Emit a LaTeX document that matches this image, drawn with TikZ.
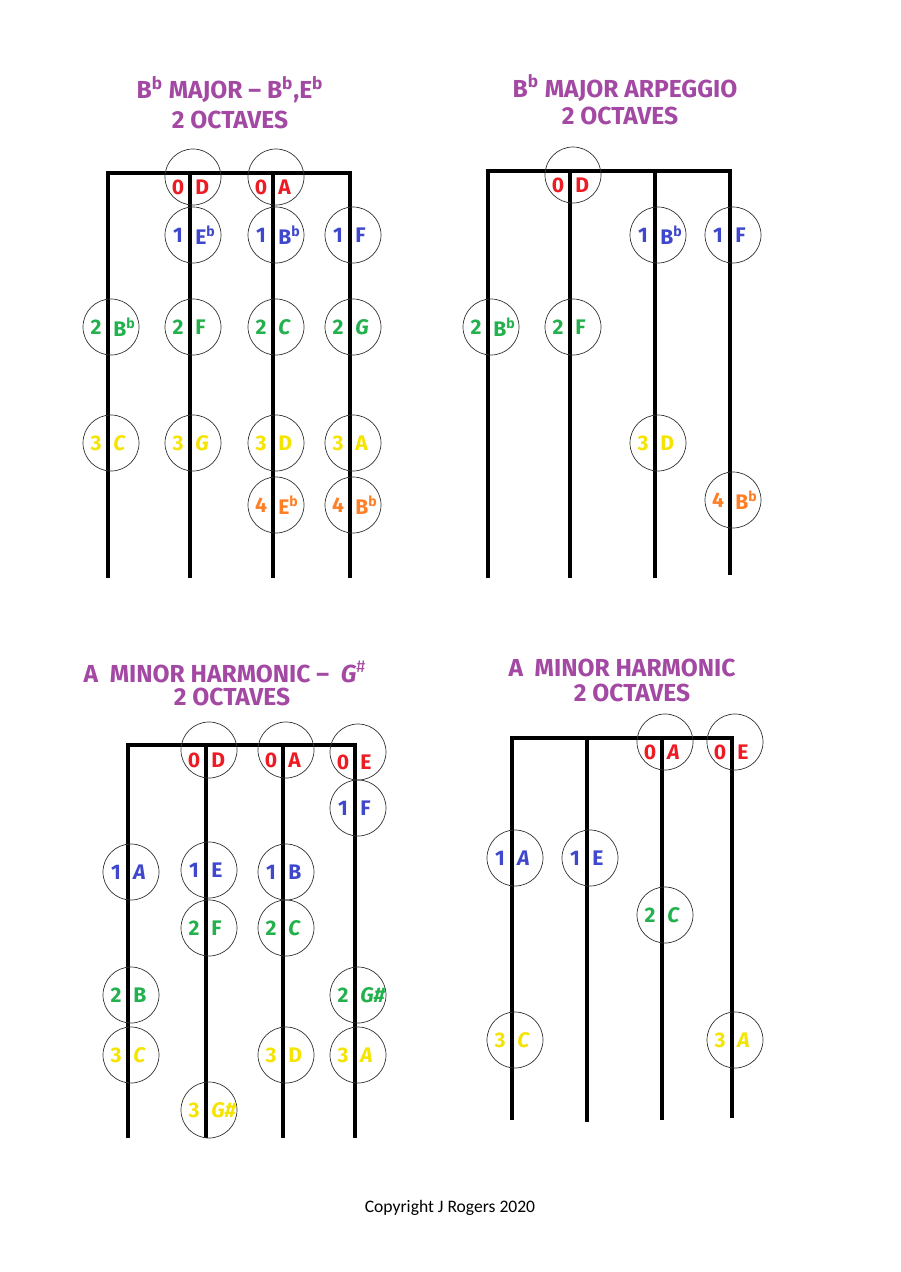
\documentclass[tikz,border=0pt]{standalone}
\usepackage{fontspec}
\setmainfont{Fira Sans}
\newfontfamily\cpy{Carlito}
\definecolor{nred}{HTML}{ED1C24}
\definecolor{nblue}{HTML}{3F48CC}
\definecolor{ngreen}{HTML}{22B14C}
\definecolor{nyellow}{HTML}{F5E400}
\definecolor{norange}{HTML}{FF7F27}
\definecolor{npurple}{HTML}{A349A4}
\tikzset{
  str/.style={line width=2.4pt},
  ring/.style={draw=black!80,line width=0.4pt,circle,minimum size=56*0.02cm,inner sep=0pt},
  lab/.style={font=\fontsize{12}{14}\selectfont\bfseries,inner sep=0pt},
  ttl/.style={font=\fontsize{14}{16}\selectfont\bfseries,text=npurple},
}
\newcommand{\nt}[6]{%
  \node[ring] (#6) at (#1+3,#2) {};
  \node[lab,text=#5] at (#1-12,#2) {#3};
  \node[lab,text=#5,anchor=west] at (#1+5,#2) {#4};}
\newcommand{\ntt}[6]{%
  \node[ring] (#6) at (#1+3,#2-10) {};
  \node[lab,text=#5] at (#1-12,#2) {#3};
  \node[lab,text=#5,anchor=west] at (#1+5,#2) {#4};}
\newcommand{\fl}{$^{\mathbf{b}}$}
\begin{document}
\begin{tikzpicture}[x=0.02cm,y=-0.02cm]
\useasboundingbox[fill=white] (0,0) rectangle (900,1272);
% Diagram 1
\node[ttl] (t1a) at (230,90) {B\fl\ MAJOR -- B\fl,E\fl};
\node[ttl] (t1b) at (230,120) {2 OCTAVES};
\draw[str] (108,578) -- (108,173) -- (350,173) -- (350,578);
\draw[str] (190,173) -- (190,578);
\draw[str] (273,173) -- (273,578);
\ntt{190}{187}{0}{D}{nred}{a1}
\ntt{273}{187}{0}{A}{nred}{a2}
\nt{190}{235}{1}{E\fl}{nblue}{a3}
\nt{273}{235}{1}{B\fl}{nblue}{a4}
\nt{350}{235}{1}{F}{nblue}{a5}
\nt{108}{327}{2}{B\fl}{ngreen}{a6}
\nt{190}{327}{2}{F}{ngreen}{a7}
\nt{273}{327}{2}{\textit{C}}{ngreen}{a8}
\nt{350}{327}{2}{\textit{G}}{ngreen}{a9}
\nt{108}{443}{3}{\textit{C}}{nyellow}{a10}
\nt{190}{443}{3}{\textit{G}}{nyellow}{a11}
\nt{273}{443}{3}{D}{nyellow}{a12}
\nt{350}{443}{3}{A}{nyellow}{a13}
\nt{273}{505}{4}{E\fl}{norange}{a14}
\nt{350}{505}{4}{B\fl}{norange}{a15}
% Diagram 2
\node[ttl] (t2a) at (625,88) {B\fl\ MAJOR ARPEGGIO};
\node[ttl] (t2b) at (620,116) {2 OCTAVES};
\draw[str] (488,578) -- (488,171) -- (730,171) -- (730,575);
\draw[str] (570,171) -- (570,578);
\draw[str] (655,171) -- (655,578);
\ntt{570}{185}{0}{D}{nred}{b1}
\nt{655}{235}{1}{B\fl}{nblue}{b2}
\nt{730}{235}{1}{F}{nblue}{b3}
\nt{488}{327}{2}{B\fl}{ngreen}{b4}
\nt{570}{327}{2}{F}{ngreen}{b5}
\nt{655}{443}{3}{D}{nyellow}{b6}
\nt{730}{500}{4}{B\fl}{norange}{b7}
% Diagram 3
\node[ttl] (t3a) at (225,672) {A\ \ MINOR HARMONIC --\ \ \textit{G}$^{\#}$};
\node[ttl] (t3b) at (232,697) {2 OCTAVES};
\draw[str] (128,1138) -- (128,745) -- (355,745) -- (355,1138);
\draw[str] (206,745) -- (206,1138);
\draw[str] (283,745) -- (283,1138);
\ntt{206}{760}{0}{D}{nred}{c1}
\ntt{283}{760}{0}{A}{nred}{c2}
\ntt{355}{762}{0}{E}{nred}{c3}
\nt{355}{808}{1}{F}{nblue}{c4}
\nt{128}{872}{1}{\textit{A}}{nblue}{c5}
\nt{206}{870}{1}{E}{nblue}{c6}
\nt{283}{872}{1}{B}{nblue}{c7}
\nt{206}{928}{2}{F}{ngreen}{c8}
\nt{283}{928}{2}{\textit{C}}{ngreen}{c9}
\nt{128}{995}{2}{B}{ngreen}{c10}
\nt{355}{995}{2}{\textit{G\#}}{ngreen}{c11}
\nt{128}{1055}{3}{\textit{C}}{nyellow}{c12}
\nt{283}{1055}{3}{D}{nyellow}{c13}
\nt{355}{1055}{3}{\textit{A}}{nyellow}{c14}
\nt{206}{1110}{3}{\textit{G\#}}{nyellow}{c15}
% Diagram 4
\node[ttl] (t4a) at (622,668) {A\ \ MINOR HARMONIC};
\node[ttl] (t4b) at (632,693) {2 OCTAVES};
\draw[str] (512,1120) -- (512,738) -- (732,738) -- (732,1118);
\draw[str] (587,738) -- (587,1122);
\draw[str] (662,738) -- (662,1120);
\ntt{662}{752}{0}{\textit{A}}{nred}{d1}
\ntt{732}{752}{0}{E}{nred}{d2}
\nt{512}{858}{1}{\textit{A}}{nblue}{d3}
\nt{587}{858}{1}{E}{nblue}{d4}
\nt{662}{915}{2}{\textit{C}}{ngreen}{d5}
\nt{512}{1040}{3}{\textit{C}}{nyellow}{d6}
\nt{732}{1040}{3}{\textit{A}}{nyellow}{d7}
\node[font=\cpy\fontsize{10}{12}\selectfont] (cp) at (450,1208) {Copyright J Rogers 2020};
\end{tikzpicture}
\end{document}
